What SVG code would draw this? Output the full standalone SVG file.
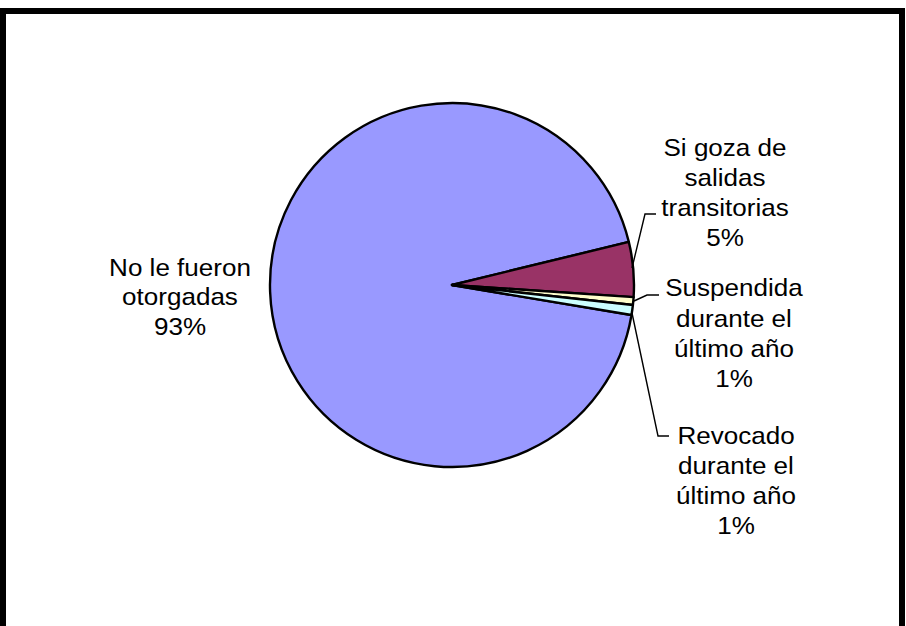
<svg xmlns="http://www.w3.org/2000/svg" width="906" height="626" viewBox="0 0 906 626">
<style>
.lbl{font-family:"Liberation Sans",Arial,sans-serif;font-size:24px;fill:#000;text-anchor:middle}
.sl{stroke:#000;stroke-width:2.4;stroke-linejoin:round}
.ld{fill:none;stroke:#000;stroke-width:1.4}
</style>
<rect width="906" height="626" fill="#fff"/>
<rect x="3" y="11" width="899" height="640" fill="none" stroke="#000" stroke-width="6"/>
<g id="pie">
<g id="slice-no"><path class="sl" fill="#9999FF" d="M452,285 L631.5,315.0 A182,182 0 1 1 628.8,241.9 Z"/></g>
<g id="slice-si"><path class="sl" fill="#993366" d="M452,285 L628.8,241.9 A182,182 0 0 1 633.6,297.1 Z"/></g>
<g id="slice-susp"><path class="sl" fill="#FFFFCC" d="M452,285 L633.6,297.1 A182,182 0 0 1 632.9,305.0 Z"/></g>
<g id="slice-rev"><path class="sl" fill="#CCFFFF" d="M452,285 L632.9,305.0 A182,182 0 0 1 631.5,315.0 Z"/></g>
</g>
<g id="connectors">
<polyline class="ld" points="632,268 645,214 656,214"/>
<polyline class="ld" points="634,301 647,295 659,295"/>
<polyline class="ld" points="632,313 658,436 669,436"/>
</g>
<g id="label-si" transform="translate(725,0) scale(1.085,1)">
<text class="lbl"><tspan x="0" y="156">Si goza de</tspan><tspan x="0" y="186">salidas</tspan><tspan x="0" y="216">transitorias</tspan><tspan x="0" y="246">5%</tspan></text>
</g>
<g id="label-susp" transform="translate(734,0) scale(1.085,1)">
<text class="lbl"><tspan x="0" y="296">Suspendida</tspan><tspan x="0" y="327">durante el</tspan><tspan x="0" y="357">último año</tspan><tspan x="0" y="387">1%</tspan></text>
</g>
<g id="label-rev" transform="translate(736,0) scale(1.085,1)">
<text class="lbl"><tspan x="0" y="444">Revocado</tspan><tspan x="0" y="474">durante el</tspan><tspan x="0" y="504">último año</tspan><tspan x="0" y="534">1%</tspan></text>
</g>
<g id="label-no" transform="translate(180,0) scale(1.085,1)">
<text class="lbl"><tspan x="0" y="276">No le fueron</tspan><tspan x="0" y="305">otorgadas</tspan><tspan x="0" y="335">93%</tspan></text>
</g>
</svg>
